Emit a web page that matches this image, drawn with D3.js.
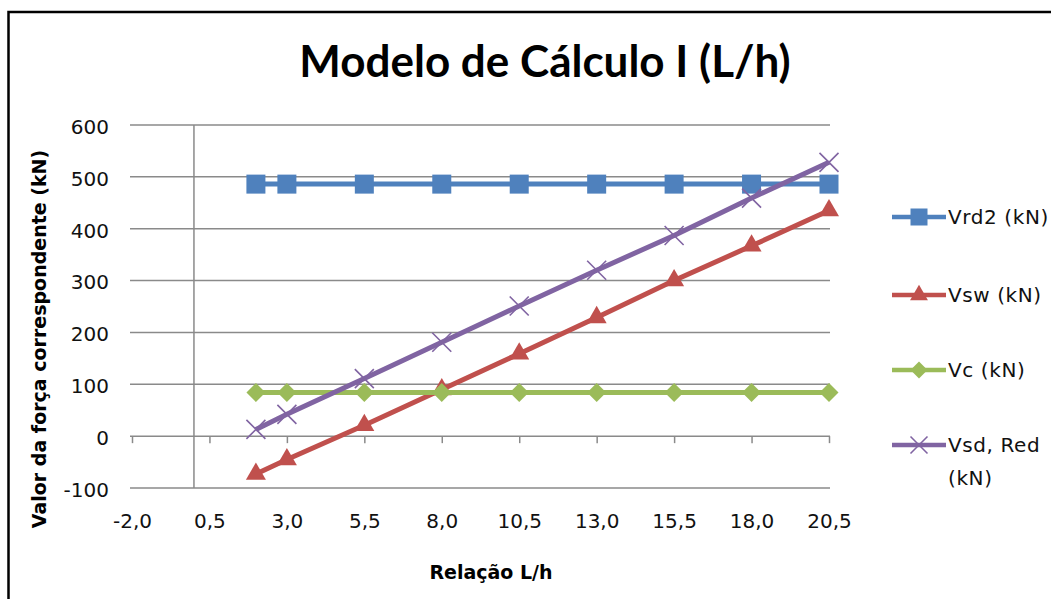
<!DOCTYPE html>
<html>
<head>
<meta charset="utf-8">
<script src="https://cdn.jsdelivr.net/npm/d3@7"></script>
<style>
  html, body { margin: 0; padding: 0; background: #fff; }
  svg { display: block; }
</style>
</head>
<body>
<svg id="chart" width="1051" height="599"></svg>
<script>
// ---- data ----
const title = "Modelo de Cálculo I (L/h)";
const xTitle = "Relação L/h";
const yTitle = "Valor da força correspondente (kN)";
const xValues = [2, 3, 5.5, 8, 10.5, 13, 15.5, 18, 20.5];
const vrd2 = [486, 486, 486, 486, 486, 486, 486, 486, 486];
const vsw  = [-73, -45, 21, 90, 159, 229, 300, 367, 435];
const vc   = [84, 84, 84, 84, 84, 84, 84, 84, 84];
const vsd  = [13, 42, 111, 181, 251, 320, 387, 459, 528];
const xTicks = [-2, 0.5, 3, 5.5, 8, 10.5, 13, 15.5, 18, 20.5];
const yTicks = [-100, 0, 100, 200, 300, 400, 500, 600];
const seriesNames = [["Vrd2 (kN)"], ["Vsw (kN)"], ["Vc (kN)"], ["Vsd, Red", "(kN)"]];
const seriesColors = ["#4F81BD", "#C0504D", "#9BBB59", "#8064A2"];
const seriesMarkers = ["square", "triangle", "diamond", "x"];

const svg = d3.select("#chart");
svg.append("rect").attr("width", 1051).attr("height", 599).attr("fill", "#fff");
// outer frame
svg.append("rect").attr("x", 8.5).attr("y", 12).attr("width", 1200).attr("height", 800)
  .attr("fill", "none").attr("stroke", "#000").attr("stroke-width", 2.5);

const x = d3.scaleLinear().domain([-2, 20.5]).range([132, 829]);
const y = d3.scaleLinear().domain([-100, 600]).range([488, 125]);

const small = "'DejaVu Sans', Verdana, sans-serif";

// gridlines
svg.append("g").selectAll("line").data(yTicks).join("line")
  .attr("x1", 130).attr("x2", 830)
  .attr("y1", d => y(d)).attr("y2", d => y(d))
  .attr("stroke", "#8a8a8a").attr("stroke-width", 1.5);

// vertical axis line at x=0
svg.append("line").attr("x1", x(0)).attr("x2", x(0))
  .attr("y1", y(600)).attr("y2", y(-100))
  .attr("stroke", "#8a8a8a").attr("stroke-width", 1.5);

// x tick marks on the zero line
const xTickAxis = d3.axisBottom(x).tickValues(xTicks).tickSize(7).tickFormat("");
const gxt = svg.append("g").attr("transform", `translate(0,${y(0)})`).call(xTickAxis);
gxt.select(".domain").remove();
gxt.selectAll("line").attr("stroke", "#8a8a8a").attr("stroke-width", 1.5);

// x tick labels at bottom
const fmt = d => d.toFixed(1).replace(".", ",");
const xLabAxis = d3.axisBottom(x).tickValues(xTicks).tickSize(0).tickFormat(fmt);
const gxl = svg.append("g").attr("transform", `translate(0,${y(-100) + 40})`).call(xLabAxis);
gxl.select(".domain").remove();
gxl.selectAll("text").attr("font-family", small).attr("font-size", 20).attr("fill", "#111")
  .attr("y", 0).attr("dy", "0");

// y tick labels
const yAxis = d3.axisLeft(y).tickValues(yTicks).tickSize(0).tickFormat(d => d);
const gy = svg.append("g").attr("transform", `translate(112,0)`).call(yAxis);
gy.select(".domain").remove();
gy.selectAll("text").attr("font-family", small).attr("font-size", 20).attr("fill", "#111").attr("dy", "0.42em");

// marker drawing
function drawMarker(g, type, color, cx, cy, s) {
  if (type === "square") {
    g.append("rect").attr("x", cx - s / 2).attr("y", cy - s / 2).attr("width", s).attr("height", s)
      .attr("fill", color);
  } else if (type === "triangle") {
    g.append("path").attr("d", d3.symbol(d3.symbolTriangle, s * s * 0.48)())
      .attr("transform", `translate(${cx},${cy})`).attr("fill", color);
  } else if (type === "diamond") {
    g.append("path").attr("d", d3.symbol(d3.symbolSquare, s * s * 0.5)())
      .attr("transform", `translate(${cx},${cy}) rotate(45)`).attr("fill", color);
  } else {
    const h = s / 2;
    g.append("path").attr("d", `M${cx - h},${cy - h}L${cx + h},${cy + h}M${cx - h},${cy + h}L${cx + h},${cy - h}`)
      .attr("stroke", color).attr("stroke-width", 1.6).attr("fill", "none");
  }
}

const allSeries = [vrd2, vsw, vc, vsd];
const line = d3.line().x(d => x(d[0])).y(d => y(d[1]));
allSeries.forEach((vals, i) => {
  const g = svg.append("g");
  const pts = xValues.map((xv, j) => [xv, vals[j]]);
  g.append("path").datum(pts).attr("d", line)
    .attr("fill", "none").attr("stroke", seriesColors[i]).attr("stroke-width", 5)
    .attr("stroke-linejoin", "round");
  pts.forEach(p => drawMarker(g, seriesMarkers[i], seriesColors[i], x(p[0]), y(p[1]), 19));
});

// legend
const legY = [217, 295, 370, 445];
seriesNames.forEach((names, i) => {
  const g = svg.append("g");
  g.append("line").attr("x1", 892).attr("x2", 946).attr("y1", legY[i]).attr("y2", legY[i])
    .attr("stroke", seriesColors[i]).attr("stroke-width", 4.5);
  drawMarker(g, seriesMarkers[i], seriesColors[i], 919, legY[i], 17);
  names.forEach((n, k) => {
    g.append("text").attr("x", 948).attr("y", legY[i] + k * 33).attr("dy", "0.36em")
      .attr("font-family", small).attr("font-size", 20).attr("letter-spacing", 0.6)
      .attr("fill", "#111").text(n);
  });
});

// titles
svg.append("text").attr("x", 545).attr("y", 77).attr("text-anchor", "middle")
  .attr("font-family", "Lato, 'Open Sans', sans-serif").attr("font-weight", "bold")
  .attr("font-size", 44).attr("fill", "#000").text(title);

svg.append("text").attr("x", 491).attr("y", 579).attr("text-anchor", "middle")
  .attr("font-family", small).attr("font-weight", "bold")
  .attr("font-size", 19).attr("fill", "#000").text(xTitle);

svg.append("text").attr("transform", "translate(46,339) rotate(-90)").attr("text-anchor", "middle")
  .attr("font-family", small).attr("font-weight", "bold")
  .attr("font-size", 19).attr("fill", "#000").text(yTitle);
</script>
</body>
</html>
